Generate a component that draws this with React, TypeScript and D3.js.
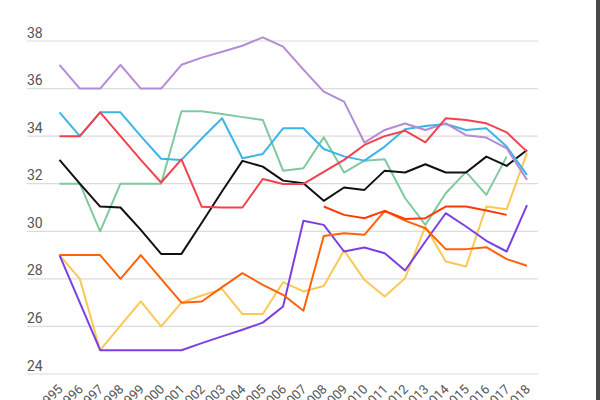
import React from "react";
import * as d3 from "d3";

const years = d3.range(1995, 2019);
const yTicks = [24, 26, 28, 30, 32, 34, 36, 38];

const lavender = [37, 36, 36, 37, 36, 36, 37, 37.3, 37.55, 37.8, 38.15, 37.76, 36.8, 35.87, 35.45, 33.73, 34.26, 34.53, 34.26, 34.54, 34.04, 33.94, 33.49, 32.16];
const blue = [35, 34, 35, 35, 34, 33.05, 33, 33.9, 34.75, 33.07, 33.25, 34.33, 34.33, 33.46, 33.15, 32.97, 33.56, 34.29, 34.43, 34.51, 34.26, 34.33, 33.56, 32.37];
const red = [34, 34, 35, 34, 33, 32.05, 33.02, 31.03, 31, 31, 32.2, 31.99, 31.99, 32.5, 33.0, 33.63, 34.0, 34.23, 33.74, 34.75, 34.68, 34.54, 34.16, 33.35];
const green = [32, 32, 30, 32, 32, 32, 35.05, 35.05, 34.93, 34.8, 34.68, 32.55, 32.65, 33.95, 32.47, 32.97, 33.03, 31.4, 30.27, 31.6, 32.5, 31.53, 33.14, null];
const black = [33, 32, 31.04, 31, 30.06, 29.05, 29.05, 30.36, 31.68, 32.96, 32.72, 32.13, 32.02, 31.28, 31.84, 31.74, 32.55, 32.47, 32.82, 32.47, 32.47, 33.14, 32.75, 33.42];
const orange = [29, 29, 29, 28, 29, 28, 27, 27.05, 27.65, 28.24, 27.75, 27.33, 26.66, 29.8, 29.92, 29.85, 30.86, 30.45, 30.13, 29.25, 29.25, 29.33, 28.83, 28.55];
const redOrange = [null, null, null, null, null, null, null, null, null, null, null, null, null, 31.04, 30.69, 30.55, 30.86, 30.52, 30.55, 31.04, 31.04, 30.87, 30.69, null];
const yellow = [29, 28, 25, 26.03, 27.05, 26, 27, 27.3, 27.57, 26.52, 26.52, 27.86, 27.47, 27.7, 29.2, 27.96, 27.26, 28.03, 30.2, 28.73, 28.52, 31.04, 30.93, 33.3];
const violet = [29, 27, 25, 25, 25, 25, 25, 25.3, 25.58, 25.86, 26.16, 26.84, 30.44, 30.27, 29.15, 29.32, 29.08, 28.35, 29.57, 30.76, 30.2, 29.6, 29.15, 31.1];

const series = [
  { name: "green", values: green, color: "#7fc9a0" },
  { name: "yellow", values: yellow, color: "#fbc855" },
  { name: "violet", values: violet, color: "#7b3fe4" },
  { name: "orange", values: orange, color: "#ff6208" },
  { name: "redOrange", values: redOrange, color: "#ff3a00" },
  { name: "black", values: black, color: "#111111" },
  { name: "blue", values: blue, color: "#3cb4ea" },
  { name: "lavender", values: lavender, color: "#b38bd6" },
  { name: "red", values: red, color: "#f2414f" },
];

export default function App() {
  const x = d3.scaleLinear().domain([1995, 2018]).range([59.5, 527]);
  const y = d3.scaleLinear().domain([24, 38]).range([374, 41]);
  const line = d3
    .line<number | null>()
    .defined((d) => d !== null)
    .x((_, i) => x(years[i]))
    .y((d) => y(d as number));

  return (
    <svg
      width={600}
      height={400}
      style={{ position: "absolute", left: 0, top: 0, background: "#fff" }}
      fontFamily="Roboto, sans-serif"
    >
      {yTicks.map((t) => (
        <g key={t}>
          <line x1={27} x2={538} y1={y(t)} y2={y(t)} stroke="#dcdcdc" strokeWidth={1.2} />
          <text x={27} y={y(t) - 3.5} fontSize={14} fill="#555">
            {t}
          </text>
        </g>
      ))}
      {years.map((yr) => (
        <text
          key={yr}
          transform={`translate(${x(yr) + 4},390) rotate(-45)`}
          textAnchor="end"
          fontSize={13}
          fill="#555"
        >
          {yr}
        </text>
      ))}
      {series.map((s) => (
        <path
          key={s.name}
          d={line(s.values) || ""}
          fill="none"
          stroke={s.color}
          strokeWidth={2}
          strokeLinejoin="round"
        />
      ))}
      <rect x={596} y={0} width={4} height={400} fill="#4a4a4a" />
    </svg>
  );
}
